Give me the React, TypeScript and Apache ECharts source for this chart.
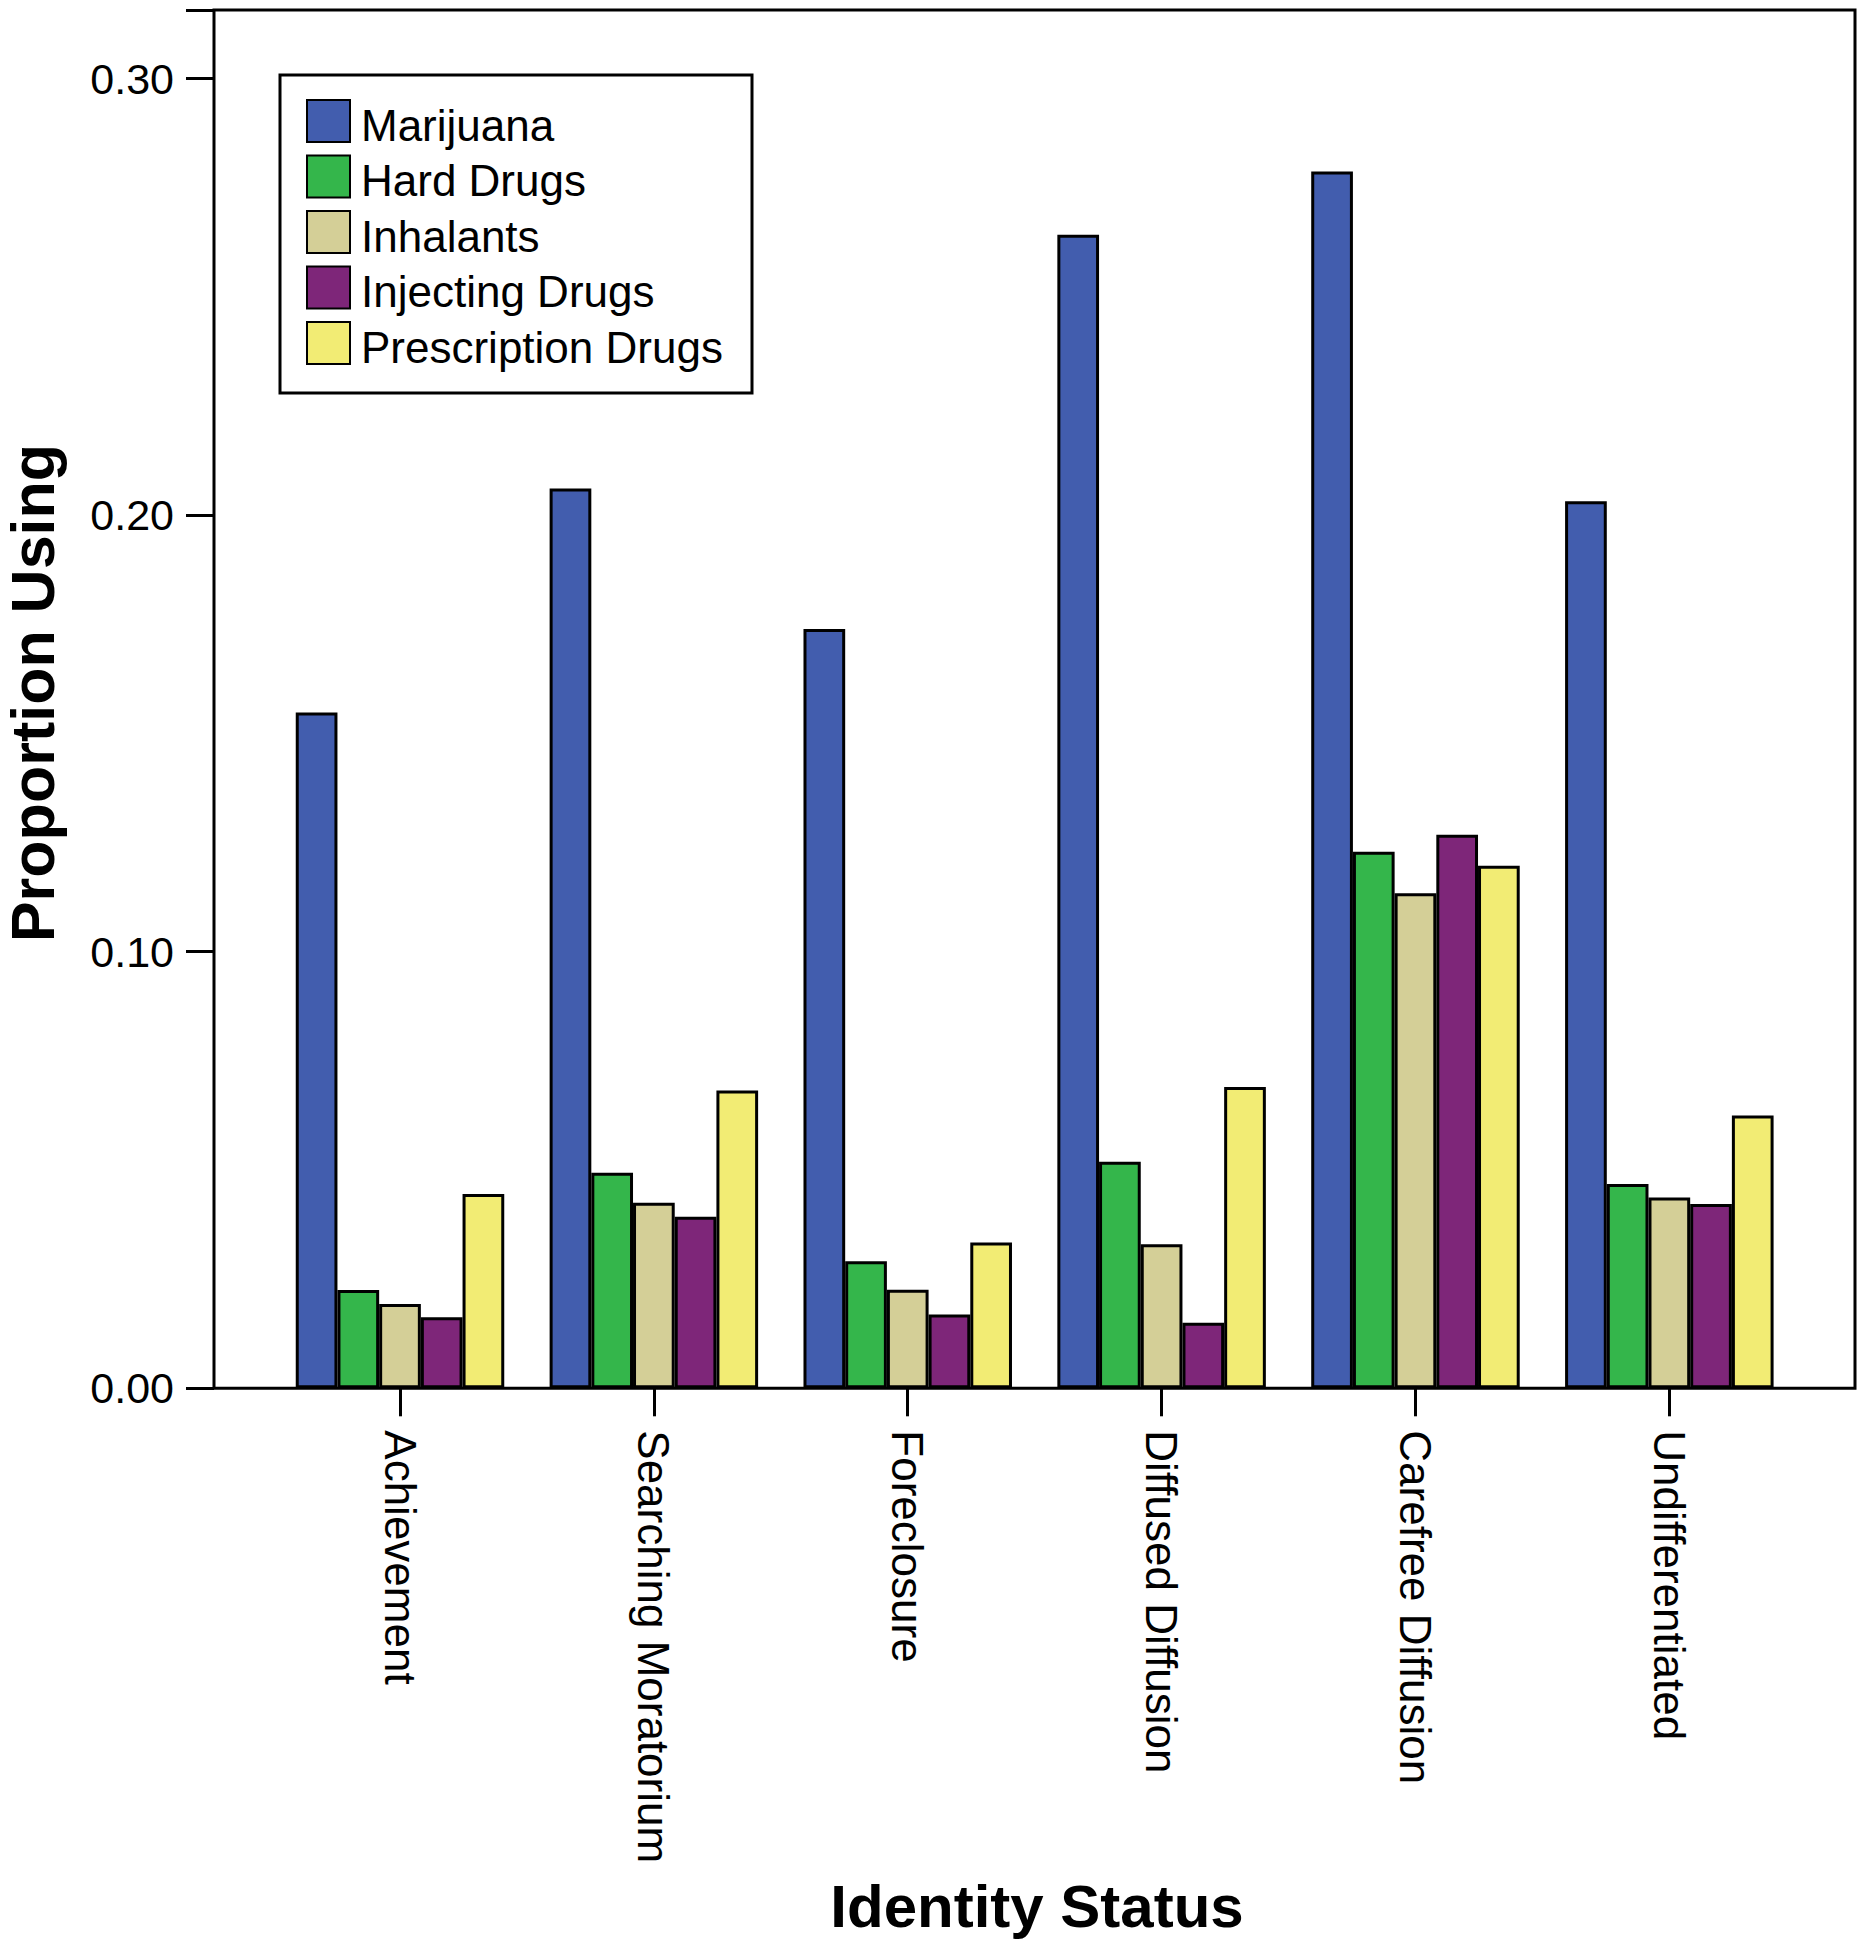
import React, { useEffect, useRef } from "react";
import * as echarts from "echarts";

const categories = [
  "Achievement",
  "Searching Moratorium",
  "Foreclosure",
  "Diffused Diffusion",
  "Carefree Diffusion",
  "Undifferentiated",
];

const seriesNames = [
  "Marijuana",
  "Hard Drugs",
  "Inhalants",
  "Injecting Drugs",
  "Prescription Drugs",
];

const marijuana = [0.1548, 0.2061, 0.1739, 0.2642, 0.2787, 0.2032];
const hardDrugs = [0.0225, 0.0494, 0.0291, 0.0519, 0.1229, 0.0468];
const inhalants = [0.0193, 0.0425, 0.0226, 0.033, 0.1134, 0.0437];
const injectingDrugs = [0.0163, 0.0393, 0.0169, 0.015, 0.1268, 0.0422];
const prescriptionDrugs = [0.0445, 0.0682, 0.0334, 0.069, 0.1197, 0.0625];

const seriesValues = [marijuana, hardDrugs, inhalants, injectingDrugs, prescriptionDrugs];
const seriesColors = ["#425DAE", "#34B64B", "#D4CF97", "#7E2679", "#F2EC74"];

const yTicks = [0, 0.1, 0.2, 0.3];

const FONT = "'Liberation Sans', Arial, Helvetica, sans-serif";

export default function App() {
  const ref = useRef<HTMLDivElement>(null);

  useEffect(() => {
    if (!ref.current) return;
    const chart = echarts.init(ref.current, null, { renderer: "svg" });

    const frameLeft = 214;
    const frameTop = 10;
    const frameRight = 1855;
    const frameBottom = 1388.3;
    const gridLeft = 273.07;
    const gridWidth = 1523.2;

    chart.setOption({
      animation: false,
      backgroundColor: "#ffffff",
      textStyle: { fontFamily: FONT },
      grid: {
        left: gridLeft,
        top: frameTop,
        width: gridWidth,
        height: frameBottom - frameTop,
        containLabel: false,
      },
      legend: {
        show: true,
        orient: "vertical",
        left: 306,
        top: 99,
        padding: 0,
        itemWidth: 43,
        itemHeight: 42,
        itemGap: 7.5,
        icon: "rect",
        data: seriesNames,
        formatter: (name: string) => "{a|" + name + "}",
        textStyle: {
          fontFamily: FONT,
          fontSize: 44,
          color: "#000",
          padding: [0, 0, 0, 6],
          rich: {
            a: {
              fontFamily: FONT,
              fontSize: 44,
              color: "#000",
              padding: [8, 0, 0, 0],
            },
          },
        },
        z: 10,
      },
      xAxis: {
        type: "category",
        data: categories,
        axisLine: { show: false },
        axisTick: {
          show: true,
          alignWithLabel: true,
          length: 28,
          lineStyle: { color: "#000", width: 3 },
        },
        axisLabel: {
          rotate: -90,
          margin: 42,
          fontSize: 44,
          color: "#000",
          fontFamily: FONT,
          interval: 0,
        },
        splitLine: { show: false },
      },
      yAxis: {
        type: "value",
        min: 0,
        max: 0.3157,
        interval: 0.1,
        offset: gridLeft - frameLeft,
        axisLine: { show: false },
        axisTick: {
          show: true,
          length: 28,
          lineStyle: { color: "#000", width: 3 },
        },
        axisLabel: {
          margin: 40,
          fontSize: 43,
          color: "#000",
          fontFamily: FONT,
          formatter: (v: number) =>
            yTicks.some((t) => Math.abs(t - v) < 1e-9) ? v.toFixed(2) : "",
        },
        splitLine: { show: false },
      },
      series: seriesNames.map((name, i) => ({
        name,
        type: "bar",
        data: seriesValues[i],
        barWidth: 41.7,
        barGap: "0%",
        itemStyle: {
          color: seriesColors[i],
          borderColor: "#000",
          borderWidth: 3,
        },
        emphasis: { disabled: true },
      })),
      graphic: [
        {
          type: "rect",
          z: 0,
          shape: { x: 280, y: 75, width: 472, height: 318 },
          style: { fill: "#fff", stroke: "#000", lineWidth: 3 },
        },
        {
          type: "rect",
          z: 20,
          shape: {
            x: frameLeft,
            y: frameTop,
            width: frameRight - frameLeft,
            height: frameBottom - frameTop,
          },
          style: { fill: "none", stroke: "#000", lineWidth: 3 },
        },
        {
          type: "text",
          x: 33,
          y: 693,
          rotation: Math.PI / 2,
          style: {
            text: "Proportion Using",
            fontFamily: FONT,
            fontSize: 61,
            fontWeight: "bold",
            fill: "#000",
            textAlign: "center",
            textVerticalAlign: "middle",
          },
        },
        {
          type: "text",
          x: 1037,
          y: 1906,
          style: {
            text: "Identity Status",
            fontFamily: FONT,
            fontSize: 60,
            fontWeight: "bold",
            fill: "#000",
            textAlign: "center",
            textVerticalAlign: "middle",
          },
        },
      ],
    });

    return () => chart.dispose();
  }, []);

  return (
    <div
      ref={ref}
      style={{ position: "absolute", left: 0, top: 0, width: 1868, height: 1950 }}
    />
  );
}
